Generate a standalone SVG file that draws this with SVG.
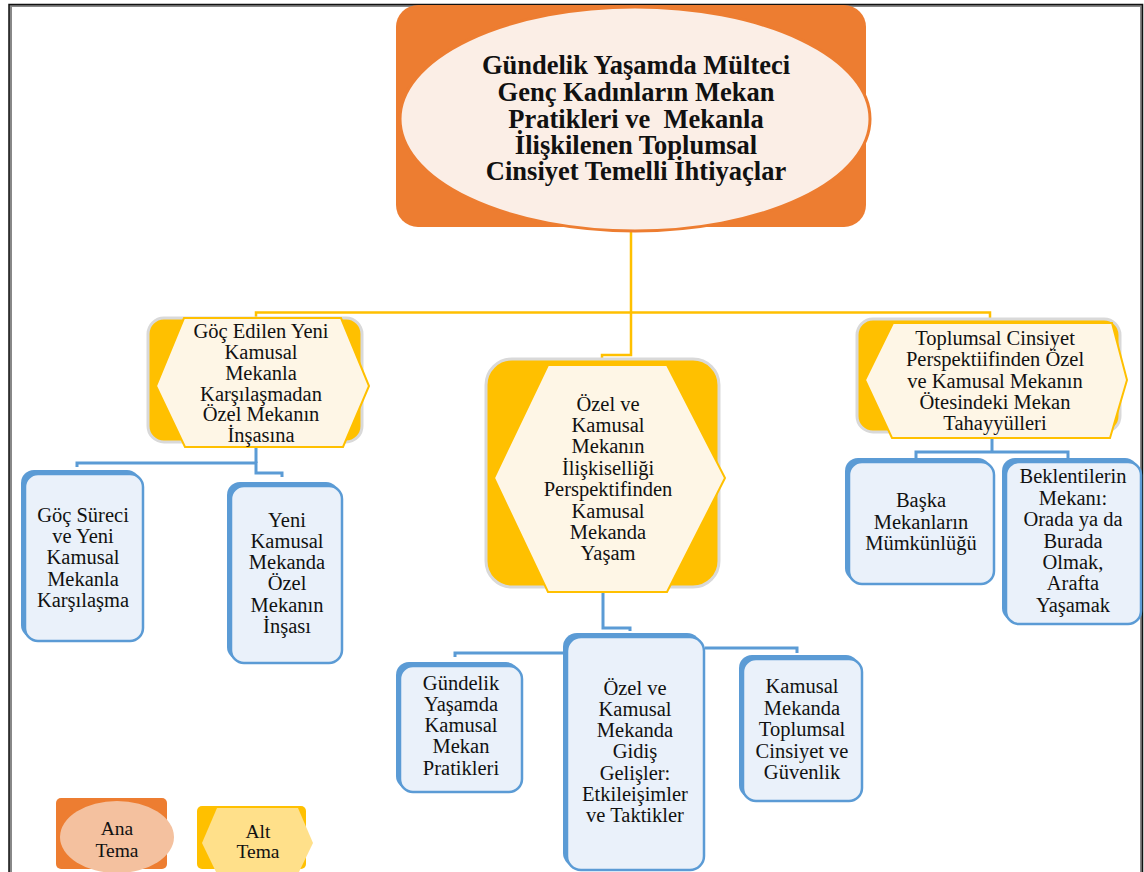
<svg xmlns="http://www.w3.org/2000/svg" width="1144" height="872" viewBox="0 0 1144 872">
<style>
text{font-family:"Liberation Serif","Times New Roman",serif;fill:#111;text-anchor:middle}
.t{font-size:20.5px}
.title{font-size:26.5px;font-weight:bold}
.leg{font-size:19.5px}
.yrect{fill:#FFC000;stroke:#D9D9D9;stroke-width:3}
.hex{fill:#FEF6E6;stroke:#FFC000;stroke-width:2}
.bback{fill:#5B9BD5}
.bfront{fill:#EAF1FA;stroke:#5B9BD5;stroke-width:2.5}
.yc{fill:none;stroke:#FFC000;stroke-width:2.5}
.bc{fill:none;stroke:#5B9BD5;stroke-width:3}
</style>
<rect x="0" y="0" width="1144" height="872" fill="#fff"/>
<g id="frame" fill="none">
<path d="M10.5 872V5.5H1141.5V872" stroke="#888" stroke-width="3"/>
<path d="M9 872V4.5H1142.5V872" stroke="#111" stroke-width="1.5"/>
</g>
<g id="connectors">
<path class="yc" d="M631 232V355H602V359"/>
<path class="yc" d="M256 318V312.5H990V318"/>
<path class="bc" d="M77 467V463H256V473H282V477"/>
<path class="bc" d="M256 444V463"/>
<path class="bc" d="M992 438V452"/>
<path class="bc" d="M916 458V452H1068V458"/>
<path class="bc" d="M603 593V628H630V631"/>
<path class="bc" d="M455 657V653H563"/>
<path class="bc" d="M705 648H797V653"/>
</g>
<g id="main">
<rect x="396" y="5" width="470" height="222" rx="22" fill="#ED7D31"/>
<ellipse cx="635" cy="119" rx="235" ry="112" fill="#FBEEE6" stroke="#ED7D31" stroke-width="3"/>
<text class="title" xml:space="preserve"><tspan x="636" y="74">Gündelik Yaşamda Mülteci</tspan><tspan x="636" y="101">Genç Kadınların Mekan</tspan><tspan x="636" y="128">Pratikleri ve  Mekanla</tspan><tspan x="636" y="154">İlişkilenen Toplumsal</tspan><tspan x="636" y="180">Cinsiyet Temelli İhtiyaçlar</tspan></text>
</g>
<g id="sub1">
<rect class="yrect" x="148" y="318" width="214" height="124" rx="16"/>
<polygon class="hex" points="156,386 184,318 341,318 369,386 343,447 185,447"/>
<text class="t"><tspan x="261" y="338">Göç Edilen Yeni</tspan><tspan x="261" y="359">Kamusal</tspan><tspan x="261" y="380">Mekanla</tspan><tspan x="261" y="401">Karşılaşmadan</tspan><tspan x="261" y="421">Özel Mekanın</tspan><tspan x="261" y="442">İnşasına</tspan></text>
</g>
<g id="sub2">
<rect class="yrect" x="486" y="359" width="233" height="228" rx="26"/>
<polygon class="hex" points="494,478 548,365 667,365 725,478 667,592 548,592"/>
<text class="t"><tspan x="608" y="411">Özel ve</tspan><tspan x="608" y="432">Kamusal</tspan><tspan x="608" y="453">Mekanın</tspan><tspan x="608" y="475">İlişkiselliği</tspan><tspan x="608" y="496">Perspektifinden</tspan><tspan x="608" y="518">Kamusal</tspan><tspan x="608" y="539">Mekanda</tspan><tspan x="608" y="560">Yaşam</tspan></text>
</g>
<g id="sub3">
<rect class="yrect" x="857" y="319" width="263" height="113" rx="16"/>
<polygon class="hex" points="865,380 893,323 1112,323 1127,380 1110,438 892,438"/>
<text class="t"><tspan x="995" y="345">Toplumsal Cinsiyet</tspan><tspan x="995" y="366">Perspektiifinden Özel</tspan><tspan x="995" y="388">ve Kamusal Mekanın</tspan><tspan x="995" y="409">Ötesindeki Mekan</tspan><tspan x="995" y="430">Tahayyülleri</tspan></text>
</g>
<g id="leaf1">
<rect class="bback" x="21" y="470" width="119" height="168" rx="13"/>
<rect class="bfront" x="25" y="474" width="118" height="167" rx="13"/>
<text class="t"><tspan x="83" y="522">Göç Süreci</tspan><tspan x="83" y="543">ve Yeni</tspan><tspan x="83" y="564">Kamusal</tspan><tspan x="83" y="586">Mekanla</tspan><tspan x="83" y="607">Karşılaşma</tspan></text>
</g>
<g id="leaf2">
<rect class="bback" x="227" y="482" width="112" height="178" rx="13"/>
<rect class="bfront" x="231" y="486" width="111" height="177" rx="13"/>
<text class="t"><tspan x="287" y="527">Yeni</tspan><tspan x="287" y="548">Kamusal</tspan><tspan x="287" y="569">Mekanda</tspan><tspan x="287" y="590">Özel</tspan><tspan x="287" y="612">Mekanın</tspan><tspan x="287" y="633">İnşası</tspan></text>
</g>
<g id="leaf3">
<rect class="bback" x="396" y="662" width="123" height="127" rx="13"/>
<rect class="bfront" x="400" y="666" width="122" height="126" rx="13"/>
<text class="t"><tspan x="461" y="690">Gündelik</tspan><tspan x="461" y="711">Yaşamda</tspan><tspan x="461" y="732">Kamusal</tspan><tspan x="461" y="753">Mekan</tspan><tspan x="461" y="775">Pratikleri</tspan></text>
</g>
<g id="leaf4">
<rect class="bback" x="563" y="633" width="138" height="234" rx="14"/>
<rect class="bfront" x="567" y="637" width="137" height="233" rx="14"/>
<text class="t"><tspan x="635" y="695">Özel ve</tspan><tspan x="635" y="716">Kamusal</tspan><tspan x="635" y="737">Mekanda</tspan><tspan x="635" y="758">Gidiş</tspan><tspan x="635" y="780">Gelişler:</tspan><tspan x="635" y="801">Etkileişimler</tspan><tspan x="635" y="822">ve Taktikler</tspan></text>
</g>
<g id="leaf5">
<rect class="bback" x="739" y="655" width="120" height="143" rx="13"/>
<rect class="bfront" x="743" y="659" width="119" height="142" rx="13"/>
<text class="t"><tspan x="802" y="693">Kamusal</tspan><tspan x="802" y="715">Mekanda</tspan><tspan x="802" y="736">Toplumsal</tspan><tspan x="802" y="758">Cinsiyet ve</tspan><tspan x="802" y="779">Güvenlik</tspan></text>
</g>
<g id="leaf6">
<rect class="bback" x="845" y="458" width="146" height="123" rx="13"/>
<rect class="bfront" x="849" y="462" width="145" height="122" rx="13"/>
<text class="t"><tspan x="921" y="507">Başka</tspan><tspan x="921" y="529">Mekanların</tspan><tspan x="921" y="550">Mümkünlüğü</tspan></text>
</g>
<g id="leaf7">
<rect class="bback" x="1002" y="458" width="136" height="163" rx="13"/>
<rect class="bfront" x="1006" y="462" width="135" height="162" rx="13"/>
<text class="t"><tspan x="1073" y="483">Beklentilerin</tspan><tspan x="1073" y="505">Mekanı:</tspan><tspan x="1073" y="526">Orada ya da</tspan><tspan x="1073" y="548">Burada</tspan><tspan x="1073" y="569">Olmak,</tspan><tspan x="1073" y="590">Arafta</tspan><tspan x="1073" y="612">Yaşamak</tspan></text>
</g>
<g id="legend-ana">
<rect x="56" y="798" width="111" height="71" rx="5" fill="#ED7D31"/>
<ellipse cx="117" cy="837" rx="57" ry="36" fill="#F4C19F"/>
<text class="leg"><tspan x="117" y="835">Ana</tspan><tspan x="117" y="857">Tema</tspan></text>
</g>
<g id="legend-alt">
<rect x="197" y="806" width="109" height="63" rx="5" fill="#FFC000"/>
<polygon points="202,843 217,808 298,808 313,843 298,874 217,874" fill="#FFE08A"/>
<text class="leg"><tspan x="258" y="838">Alt</tspan><tspan x="258" y="858">Tema</tspan></text>
</g>
</svg>
